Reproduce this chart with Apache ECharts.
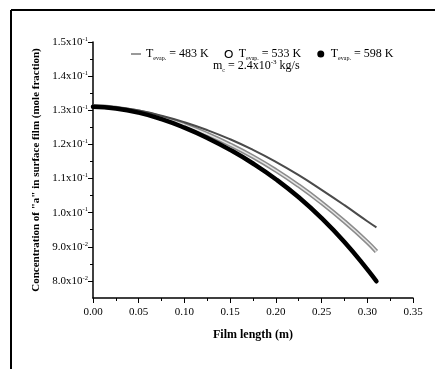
<!DOCTYPE html>
<html>
<head>
<meta charset="utf-8">
<script src="https://cdn.jsdelivr.net/npm/echarts@6/dist/echarts.min.js"></script>
<style>
html, body { margin: 0; padding: 0; background: #fff; }
#main { width: 435px; height: 369px; }
</style>
</head>
<body>
<div id="main"></div>
<script>
// film length (m)
const filmLength = [0, 0.025, 0.05, 0.075, 0.1, 0.125, 0.15, 0.175, 0.2, 0.225, 0.25, 0.275, 0.3, 0.31]
// concentration of "a" (mole fraction) for each evaporator temperature
const conc483 = [0.1313, 0.1309, 0.1299, 0.1284, 0.1265, 0.1242, 0.1215, 0.1184, 0.1149, 0.1110, 0.1067, 0.1022, 0.0975, 0.0957]
const conc533 = [0.1312, 0.1307, 0.1296, 0.1279, 0.1257, 0.1230, 0.1199, 0.1164, 0.1124, 0.1079, 0.1029, 0.0974, 0.0914, 0.0886]
const conc598 = [0.1310, 0.1305, 0.1293, 0.1274, 0.1249, 0.1219, 0.1184, 0.1144, 0.1098, 0.1045, 0.0984, 0.0914, 0.0834, 0.0799]

const seriesNames = ['483', '533', '598']
const yTicks = [0.08, 0.09, 0.10, 0.11, 0.12, 0.13, 0.14, 0.15]
const yTickMant = ['8.0', '9.0', '1.0', '1.1', '1.2', '1.3', '1.4', '1.5']
const yTickExp = ['-2', '-2', '-1', '-1', '-1', '-1', '-1', '-1']
const yMinorTicks = [0.085, 0.095, 0.105, 0.115, 0.125, 0.135, 0.145]

const font = '"Liberation Serif", "Times New Roman", serif'

function pairs(ys) {
    return filmLength.map((x, i) => [x, ys[i]])
}

function yLabel(v) {
    let idx = yTicks.findIndex(t => Math.abs(t - v) < 1e-6)
    if (idx < 0) return ''
    return '{m|' + yTickMant[idx] + 'x10}{e|' + yTickExp[idx] + '}'
}

function legendText(name) {
    return '{t|T}{s|evap.}{t| = ' + name + ' K}'
}

const chart = echarts.init(document.getElementById('main'))

const option = {
    animation: false,
    backgroundColor: '#fff',
    textStyle: { fontFamily: font },
    grid: {
        left: 93,
        top: 42,
        width: 320,
        height: 256,
        outerBoundsMode: 'none'
    },
    legend: {
        left: 126,
        top: 43,
        itemWidth: 10,
        itemHeight: 7,
        itemGap: 16,
        selectedMode: false,
        formatter: legendText,
        textStyle: {
            fontFamily: font,
            color: '#000',
            rich: {
                t: { fontFamily: font, fontSize: 12, color: '#000', lineHeight: 14, verticalAlign: 'middle' },
                s: { fontFamily: font, fontSize: 6, color: '#000', lineHeight: 14, verticalAlign: 'bottom' }
            }
        },
        data: [
            { name: '483', icon: 'path://M0,0 L10,0 L10,1.2 L0,1.2 Z', itemStyle: { color: '#555' } },
            { name: '533', icon: 'circle', itemStyle: { color: '#fff', borderColor: '#000', borderWidth: 1.2 } },
            { name: '598', icon: 'circle', itemStyle: { color: '#000' } }
        ]
    },
    graphic: [
        { type: 'line', shape: { x1: 11, y1: 10, x2: 435, y2: 10 }, style: { stroke: '#000', lineWidth: 2 } },
        { type: 'line', shape: { x1: 11, y1: 10, x2: 11, y2: 369 }, style: { stroke: '#000', lineWidth: 2 } },
        {
            type: 'text',
            left: 213,
            top: 59,
            style: {
                text: '{t|m}{s|c}{t| = 2.4x10}{e|-3}{t| kg/s}',
                rich: {
                    t: { fontFamily: font, fontSize: 12, fill: '#000', lineHeight: 14, verticalAlign: 'middle' },
                    s: { fontFamily: font, fontSize: 6, fill: '#000', lineHeight: 14, verticalAlign: 'bottom' },
                    e: { fontFamily: font, fontSize: 7, fill: '#000', lineHeight: 14, verticalAlign: 'top' }
                }
            }
        }
    ],
    xAxis: {
        type: 'value',
        min: 0,
        max: 0.35,
        interval: 0.05,
        name: 'Film length (m)',
        nameLocation: 'middle',
        nameGap: 31,
        nameTextStyle: { fontFamily: font, fontSize: 12, fontWeight: 'bold', color: '#000' },
        axisLine: { show: true, onZero: false, lineStyle: { color: '#000', width: 1.5 } },
        axisTick: { show: true, inside: false, length: 5, lineStyle: { color: '#000', width: 1 } },
        minorTick: { show: true, splitNumber: 2, length: 3, lineStyle: { color: '#000', width: 1 } },
        axisLabel: {
            fontFamily: font, fontSize: 11, color: '#000', margin: 9,
            formatter: v => v.toFixed(2)
        },
        splitLine: { show: false }
    },
    yAxis: [
        {
            type: 'value',
            min: 0.075,
            max: 0.15,
            name: 'Concentration of "a" in surface film (mole fraction)',
            nameLocation: 'middle',
            nameGap: 47,
            nameRotate: 90,
            nameTextStyle: { fontFamily: font, fontSize: 11, fontWeight: 'bold', color: '#000' },
            axisLine: { show: true, onZero: false, lineStyle: { color: '#000', width: 1.5 } },
            axisTick: { show: true, inside: false, length: 5, customValues: yTicks, lineStyle: { color: '#000', width: 1 } },
            axisLabel: {
                customValues: yTicks,
                margin: 5,
                formatter: yLabel,
                rich: {
                    m: { fontFamily: font, fontSize: 11, color: '#000', lineHeight: 13, verticalAlign: 'middle' },
                    e: { fontFamily: font, fontSize: 6.5, color: '#000', lineHeight: 13, verticalAlign: 'top' }
                }
            },
            splitLine: { show: false }
        },
        {
            type: 'value',
            min: 0.075,
            max: 0.15,
            axisLine: { show: false },
            axisTick: { show: true, inside: false, length: 3, customValues: yMinorTicks, lineStyle: { color: '#000', width: 1 } },
            axisLabel: { show: false },
            splitLine: { show: false },
            position: 'left'
        }
    ],
    series: [
        {
            name: seriesNames[1],
            type: 'line',
            data: pairs(conc533),
            smooth: true,
            showSymbol: false,
            lineStyle: { color: '#8c8c8c', width: 4.5 },
            z: 2
        },
        {
            name: seriesNames[1] + '_inner',
            type: 'line',
            data: pairs(conc533),
            smooth: true,
            showSymbol: false,
            lineStyle: { color: '#e6e6e6', width: 1.5 },
            z: 3
        },
        {
            name: seriesNames[0],
            type: 'line',
            data: pairs(conc483),
            smooth: true,
            showSymbol: false,
            lineStyle: { color: '#4a4a4a', width: 2 },
            z: 4
        },
        {
            name: seriesNames[2],
            type: 'line',
            data: pairs(conc598),
            smooth: true,
            showSymbol: false,
            lineStyle: { color: '#000', width: 4.5, cap: 'round' },
            z: 5
        }
    ]
}

chart.setOption(option)
</script>
</body>
</html>
